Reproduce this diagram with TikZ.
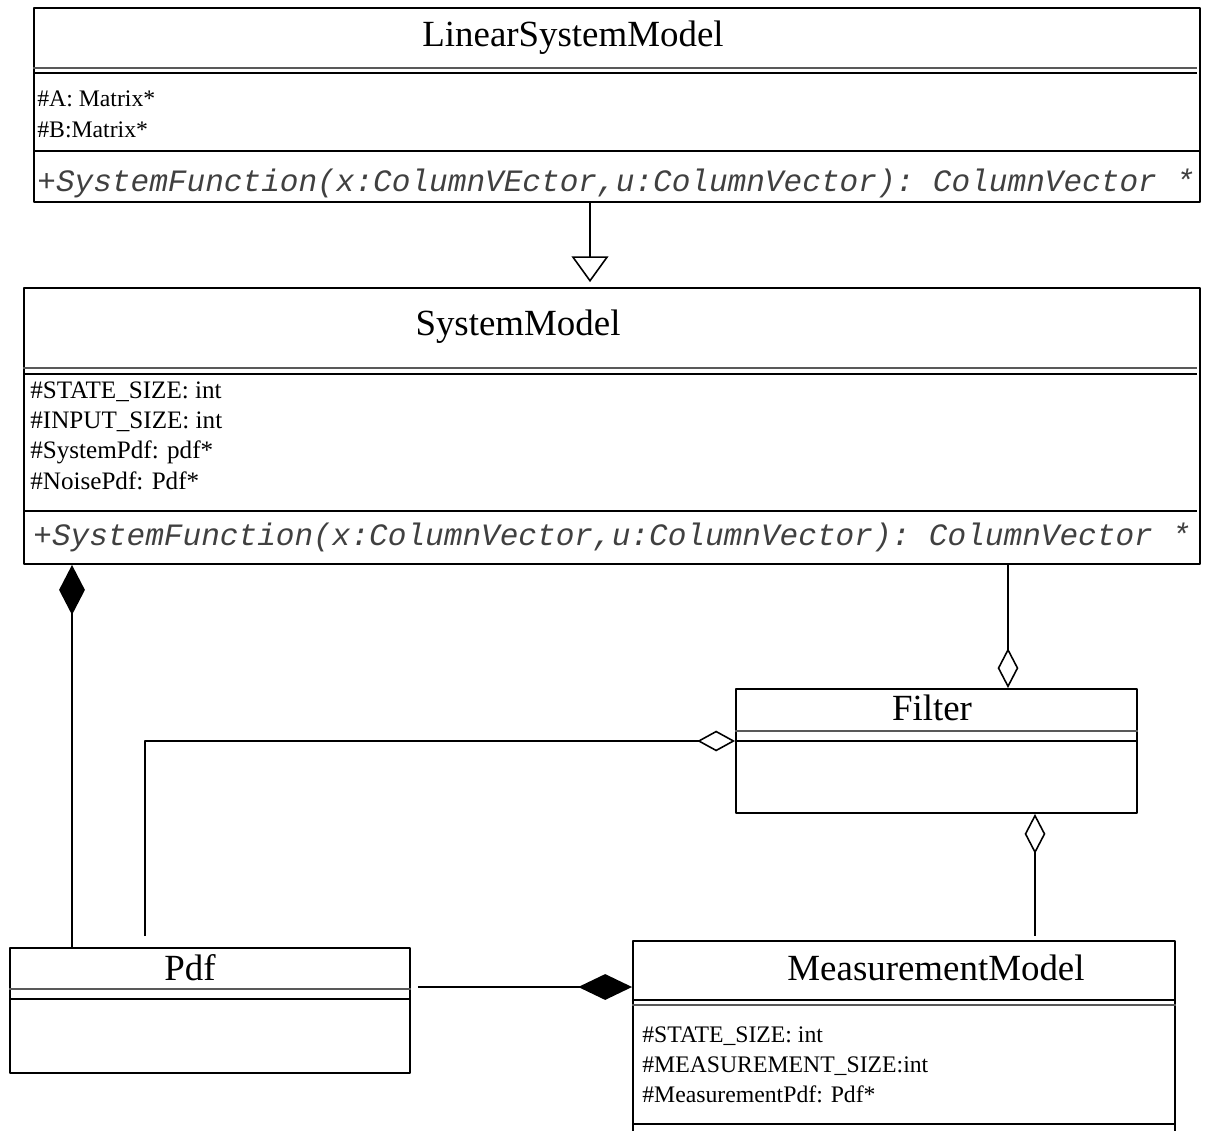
\documentclass[tikz,border=0pt]{standalone}
\usepackage{fontspec}
\setmainfont{Liberation Serif}
\setmonofont{Liberation Mono}
\usetikzlibrary{arrows.meta,fit}

\begin{document}
\begin{tikzpicture}[x=.02cm, y=-.02cm, line join=round,
  lop/.style={draw, line width=1.1pt, inner sep=0pt},
  ten/.style={anchor=base, font=\fontsize{21}{25}\selectfont, inner sep=0pt},
  thuoctinh/.style={anchor=base west, inner sep=0pt, font=\fontsize{#1}{16}\selectfont},
  thuoctinh/.default=13.5,
  phuongthuc/.style={anchor=west, inner sep=0pt, black!75, font=\fontsize{17.7}{20}\selectfont\ttfamily\itshape},
  vach/.style={line width=1.1pt},
  vachmo/.style={line width=.8pt, black!65},
  noi/.style={line width=.9pt},
  hopthanh/.style={noi, -{Diamond[length=#1, width=14.7pt]}},
  tuhop/.style={noi, -{Diamond[open, length=#1, width=11.8pt]}},
  kethua/.style={noi, -{Triangle[open, length=14.7pt, width=21pt]}}]
\useasboundingbox (0,0) rectangle (1210,1131);
%Lớp LinearSystemModel
\node[lop, fit={(34,8) (1200,202)}] (lsm) {};
\node[ten] (lsmten) at (573,47) {LinearSystemModel};
\draw[vachmo] (lsm.west |- 0,68) -- (1197,68);
\draw[vach] (lsm.west |- 0,73) -- (1197,73);
\node[thuoctinh] (lsmA) at (37,107) {\#A: Matrix*};
\node[thuoctinh] (lsmB) at (37,138) {\#B:Matrix*};
\draw[vach] (lsm.west |- 0,151) -- (lsm.east |- 0,151);
\node[phuongthuc] (lsmF) at (37,183) {+SystemFunction(x:ColumnVEctor,u:ColumnVector): ColumnVector *};
%Lớp SystemModel
\node[lop, fit={(24,288) (1200,564)}] (sm) {};
\node[ten] (smten) at (518,336) {SystemModel};
\draw[vachmo] (sm.west |- 0,368) -- (1197,368);
\draw[vach] (sm.west |- 0,374) -- (1197,374);
\node[thuoctinh=14.3] (smA) at (30,399) {\#STATE\_SIZE: int};
\node[thuoctinh=14.3] (smB) at (30,429) {\#INPUT\_SIZE: int};
\node[thuoctinh=14.3] (smC) at (30,459) {\#SystemPdf: pdf*};
\node[thuoctinh=14.3] (smD) at (30,490) {\#NoisePdf: Pdf*};
\draw[vach] (sm.west |- 0,511) -- (1197,511);
\node[phuongthuc] (smF) at (33,537) {+SystemFunction(x:ColumnVector,u:ColumnVector): ColumnVector *};
%Lớp Filter
\node[lop, fit={(736,689) (1137,813)}] (filt) {};
\node[ten] (filtten) at (932,720) {Filter};
\draw[vachmo] (filt.west |- 0,731) -- (filt.east |- 0,731);
\draw[vach] (filt.west |- 0,741) -- (filt.east |- 0,741);
%Lớp Pdf
\node[lop, fit={(10,948) (410,1073)}] (pdf) {};
\node[ten] (pdften) at (190,980) {Pdf};
\draw[vachmo] (pdf.west |- 0,989) -- (pdf.east |- 0,989);
\draw[vach] (pdf.west |- 0,999) -- (pdf.east |- 0,999);
%Lớp MeasurementModel
\node[lop, fit={(633,941) (1175,1150)}] (mm) {};
\node[ten] (mmten) at (936,980) {MeasurementModel};
\draw[vach] (mm.west |- 0,1000) -- (mm.east |- 0,1000);
\draw[vachmo] (mm.west |- 0,1005) -- (mm.east |- 0,1005);
\node[thuoctinh] (mmA) at (642,1042) {\#STATE\_SIZE: int};
\node[thuoctinh] (mmB) at (642,1072) {\#MEASUREMENT\_SIZE:int};
\node[thuoctinh] (mmC) at (642,1102) {\#MeasurementPdf: Pdf*};
\draw[vach] (mm.west |- 0,1124) -- (mm.east |- 0,1124);
%Các quan hệ
\draw[kethua, shorten >=2.8pt] (lsm.south -| 590,0) -- (sm.north -| 590,0);
\draw[hopthanh=28.4pt] (pdf.north -| 72,0) -- (sm.south -| 72,0);
\draw[tuhop=22.7pt] (sm.south -| 1008,0) -- (filt.north -| 1008,0);
\draw[tuhop=21.5pt, shorten <=6.2pt] (pdf.north -| 145,0) |- (filt.west |- 0,741);
\draw[tuhop=22.7pt, shorten <=2.3pt] (mm.north -| 1035,0) -- (filt.south -| 1035,0);
\draw[hopthanh=30.6pt, shorten <=4pt] (pdf.east |- 0,987) -- (mm.west |- 0,987);
\end{tikzpicture}
\end{document}
